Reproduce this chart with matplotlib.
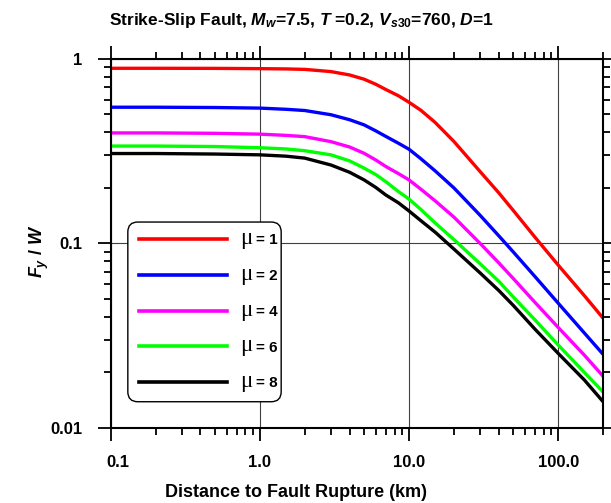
import numpy as np
import matplotlib
matplotlib.use('Agg')
import matplotlib.pyplot as plt
from matplotlib.ticker import FixedLocator, FixedFormatter, LogLocator, NullFormatter
from matplotlib.transforms import ScaledTranslation, IdentityTransform
from matplotlib.patches import FancyBboxPatch

plt.rcParams['font.family'] = ['Liberation Sans', 'DejaVu Sans']
plt.rcParams['font.weight'] = 'bold'
plt.rcParams['mathtext.fontset'] = 'custom'
plt.rcParams['mathtext.rm'] = 'Liberation Sans:bold'
plt.rcParams['mathtext.it'] = 'Liberation Sans:italic:bold'
plt.rcParams['mathtext.bf'] = 'Liberation Sans:bold'

# Distance to fault rupture (km)
distance = [0.1, 0.2, 0.5, 1, 1.5, 2, 3, 4, 5, 6, 7, 8.5, 10, 12, 15, 20, 30, 40, 50, 70, 100, 150, 200]

# Fy / W for each ductility level
fy_mu1 = [0.889, 0.889, 0.888, 0.885, 0.882, 0.877, 0.853, 0.818, 0.776, 0.728, 0.682, 0.631,
          0.582, 0.527, 0.452, 0.357, 0.245, 0.188, 0.151, 0.108, 0.0764, 0.0521, 0.0394]
fy_mu2 = [0.547, 0.547, 0.545, 0.541, 0.533, 0.525, 0.498, 0.468, 0.439, 0.407, 0.380, 0.349,
          0.324, 0.288, 0.247, 0.200, 0.142, 0.110, 0.0900, 0.0661, 0.0475, 0.0327, 0.0251]
fy_mu4 = [0.397, 0.397, 0.395, 0.391, 0.385, 0.379, 0.356, 0.333, 0.308, 0.283, 0.261, 0.239,
          0.221, 0.197, 0.170, 0.139, 0.100, 0.0785, 0.0646, 0.0479, 0.0351, 0.0248, 0.0191]
fy_mu6 = [0.337, 0.337, 0.335, 0.330, 0.325, 0.318, 0.302, 0.280, 0.256, 0.236, 0.216, 0.191,
          0.174, 0.153, 0.129, 0.105, 0.0776, 0.0624, 0.0513, 0.0385, 0.0282, 0.0200, 0.0157]
fy_mu8 = [0.307, 0.307, 0.305, 0.302, 0.297, 0.290, 0.266, 0.243, 0.221, 0.201, 0.183, 0.166,
          0.150, 0.133, 0.115, 0.0933, 0.0692, 0.0556, 0.0462, 0.0343, 0.0254, 0.0182, 0.0139]

series = [fy_mu1, fy_mu2, fy_mu4, fy_mu6, fy_mu8]
mu_values = ['1', '2', '4', '6', '8']
colors = ['#ff0000', '#0000ff', '#ff00ff', '#00ff00', '#000000']

x_ticks = [0.1, 1, 10, 100]
x_ticklabels = ['0.1', '1.0', '10.0', '100.0']
y_ticks = [0.01, 0.1, 1]
y_ticklabels = ['0.01', '0.1', '1']

fig = plt.figure(figsize=(6.11, 5.03), dpi=100)
ax = fig.add_axes([0.181, 0.149, 0.806, 0.734])

for vals, mu, col in zip(series, mu_values, colors):
    ax.plot(distance, vals, color=col, lw=2.4, label='= ' + mu)

ax.set_xscale('log')
ax.set_yscale('log')
ax.set_xlim(0.1, 200)
ax.set_ylim(0.01, 1)

ax.xaxis.set_major_locator(FixedLocator(x_ticks))
ax.xaxis.set_major_formatter(FixedFormatter(x_ticklabels))
ax.yaxis.set_major_locator(FixedLocator(y_ticks))
ax.yaxis.set_major_formatter(FixedFormatter(y_ticklabels))
ax.xaxis.set_minor_locator(LogLocator(base=10, subs=np.arange(2, 10), numticks=20))
ax.yaxis.set_minor_locator(LogLocator(base=10, subs=np.arange(2, 10), numticks=20))
ax.xaxis.set_minor_formatter(NullFormatter())
ax.yaxis.set_minor_formatter(NullFormatter())

ax.tick_params(which='both', direction='out', top=True, right=True, width=1.3, labelsize=12)
ax.tick_params(which='major', length=9.5)
ax.tick_params(which='minor', length=5)
ax.tick_params(axis='y', pad=11)
ax.tick_params(axis='x', pad=10)
for s in ax.spines.values():
    s.set_linewidth(1.5)

ax.grid(True, which='major', color='#404040', lw=0.8)

fig.text(0.493, 1 - 20 / 503, r'Strike-Slip Fault, $M_w$=7.5, $T$ =0.2, $V_{s30}$=760, $D$=1',
         ha='center', va='center', fontsize=12.5, fontweight='bold')
ax.set_xlabel('Distance to Fault Rupture (km)', fontsize=13, fontweight='bold')
ax.xaxis.set_label_coords(0.377, -0.152)
ax.set_ylabel(r'$F_y$ / $W$', fontsize=13, fontweight='bold')
ax.yaxis.set_label_coords(-0.121, 0.48)

leg = ax.legend(loc='upper left', bbox_to_anchor=(0.035, 0.558), borderaxespad=0, fontsize=11,
                handlelength=5.75, handletextpad=1.86, labelspacing=1.42, borderpad=0.75,
                frameon=False)
for t in leg.get_texts():
    t.set_fontweight('bold')
for h in leg.get_lines():
    h.set_linewidth(2.6)

fig.canvas.draw()

# nudge the first x tick label to the right, as in the original
first = ax.xaxis.get_majorticklabels()[0]
first.set_transform(first.get_transform() + ScaledTranslation(7 / 100, 0, fig.dpi_scale_trans))

# legend frame: rounded box, tight on the right side
lb = leg.get_window_extent()
txt_right = max(t.get_window_extent().x1 for t in leg.get_texts())
box = FancyBboxPatch((lb.x0, lb.y0), txt_right + 4 - lb.x0, lb.height,
                     boxstyle='round,pad=0,rounding_size=10', transform=IdentityTransform(),
                     facecolor='white', edgecolor='black', lw=1.0, zorder=4.5, clip_on=False)
ax.add_patch(box)

# the greek mu is drawn in a serif face, like a Symbol font
for t in leg.get_texts():
    bb = t.get_window_extent()
    base = bb.y0 + 0.21 * 11 * fig.dpi / 72
    fig.text(bb.x0 - 3, base, '\u03bc', transform=None, ha='right', va='baseline',
             fontsize=16.5, fontweight='normal', family=['Liberation Serif', 'DejaVu Serif'])

fig.savefig('out.png', dpi=100)
